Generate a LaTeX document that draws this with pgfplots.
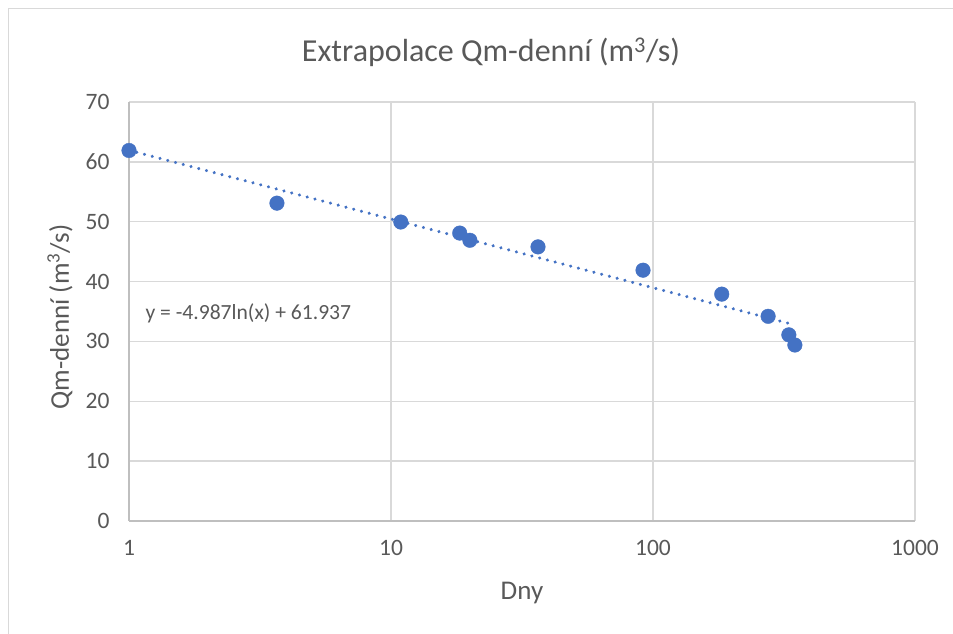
\documentclass[border=0pt]{standalone}
\usepackage{pgfplots}
\pgfplotsset{compat=1.18}
\usepackage{fontspec}
\setmainfont{Carlito}
\definecolor{mblue}{HTML}{4472C4}
\definecolor{gridc}{HTML}{D9D9D9}
\definecolor{axc}{HTML}{BFBFBF}
\definecolor{txt}{HTML}{595959}
\begin{document}
\begin{tikzpicture}[x=1pt,y=1pt]
\path[use as bounding box] (0,0) rectangle (953,634);
\fill[white] (0,0) rectangle (953,634);
\draw[gridc, line width=1.5pt] (8.5,0) -- (8.5,625.5) -- (953,625.5);
\node[text=txt, font=\fontsize{32}{32}\selectfont] at (491,582) {Extrapolace Qm-denní (m\textsuperscript{3}/s)};
\node[text=txt, font=\fontsize{27}{27}\selectfont] at (522,41) {Dny};
\node[text=txt, font=\fontsize{27}{27}\selectfont, rotate=90] at (60,317) {Qm-denní (m\textsuperscript{3}/s)};
\node[text=txt, font=\fontsize{21.6}{21.6}\selectfont, anchor=west] at (142,321) {y = -4.987ln(x) + 61.937};
\begin{axis}[
  at={(129pt,113pt)}, anchor=south west,
  scale only axis, width=786pt, height=419pt,
  xmode=log, xmin=1, xmax=1000, ymin=0, ymax=70,
  ytick={0,10,...,70},
  xtick={1,10,100,1000}, xticklabels={1,10,100,1000},
  minor xtick={}, 
  grid=major,
  major grid style={gridc, line width=1.3pt},
  axis x line*=bottom, axis y line*=left,
  axis line style={axc, line width=1.3pt, -},
  major tick length=0, minor tick length=0,
  ticklabel style={font=\fontsize{23.5}{23.5}\selectfont, text=txt},
  /pgf/number format/assume math mode=true,
  yticklabel style={xshift=-16pt},
  xticklabel style={yshift=-16pt},
  clip=false,
]
\addplot[mblue, line width=3.4pt, line cap=round, dash pattern=on 0.01pt off 8pt] coordinates {(1,61.937) (342,32.84)};
\addplot[only marks, mark=*, mark size=7.3pt, mark options={fill=mblue, draw=mblue}] coordinates {
(1,61.9) (3.67,53.1) (10.9,49.95) (18.3,48.1) (20,46.9) (36.4,45.8) (91.6,41.9) (183,37.9) (275,34.2) (330,31.1) (348,29.4)
};
\end{axis}
\end{tikzpicture}
\end{document}
